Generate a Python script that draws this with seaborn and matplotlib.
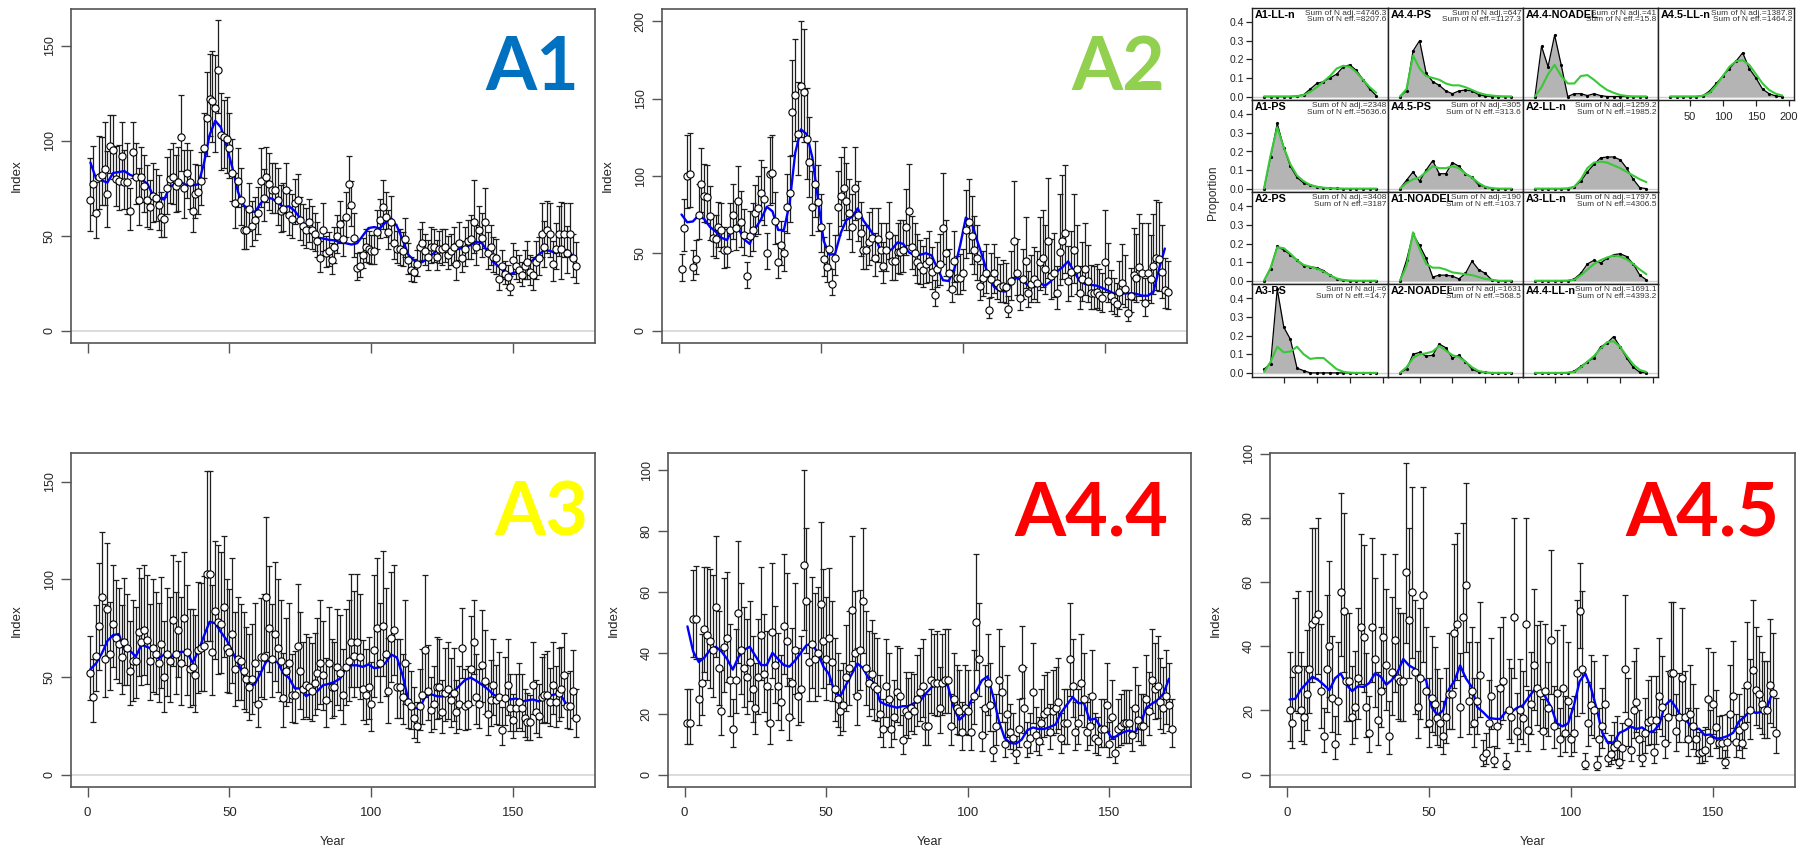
import numpy as np
import matplotlib
matplotlib.use("Agg")
import matplotlib.pyplot as plt
import seaborn as sns

sns.set_style("ticks")
plt.rcParams['font.family'] = ['Liberation Sans', 'DejaVu Sans']

# ---------------------------------------------------------------- data
A1_idx = [69, 77, 62, 81, 82, 85, 72, 97, 95, 80,
          79, 92, 78, 78, 63, 94, 81, 69, 81, 76,
          69, 65, 71, 70, 66, 60,
          59, 75, 80, 81, 76, 78, 102, 75, 83, 78,
          63, 72, 73, 79, 96, 112, 122, 121, 117, 137,
          103, 102, 101, 96, 83, 67, 79, 69, 53, 53,
          64, 55, 58, 62, 79, 70, 81, 77, 74, 74,
          69, 63, 64, 74, 61, 59, 67, 69,
          58, 55, 53, 57, 53, 51, 47, 38, 53, 41,
          42, 37, 44, 50, 56, 48, 60, 77, 66, 49,
          33, 34, 40, 44, 43, 42, 42, 52, 58, 65,
          60, 52, 57, 46, 43, 43, 42, 48, 37, 32,
          31, 35, 44, 46, 42, 39, 44, 44, 39, 43,
          43, 44, 40, 42, 44, 35, 46, 38, 43, 47,
          48, 57, 44, 53, 49, 57, 41, 44, 39, 38,
          27, 34, 30, 28, 23, 37, 34, 32, 29, 34,
          36, 31, 29, 36, 38, 51, 44, 53, 51, 35,
          43, 51, 43, 51, 41, 51, 38, 34]
A1_se = [14, 12, 12, 12, 11, 13, 14, 8, 9, 10,
         11, 9, 10, 12, 9, 8, 10, 11, 9, 10,
         12, 10, 11, 10, 11, 10, 9, 10, 9, 10,
         10, 11, 10, 12, 9, 10, 10, 10, 9, 9,
         9, 10, 9, 10, 11, 9, 10, 9, 10, 9,
         10, 11, 10, 11, 11, 11, 10, 11, 10, 10,
         10, 10, 9, 10, 9, 9, 11, 10, 10, 9,
         10, 10, 9, 9, 10, 10, 10, 10, 11, 10,
         10, 11, 12, 10, 11, 11, 11, 10, 10, 10,
         10, 9, 9, 12, 11, 10, 10, 10, 10, 9,
         9, 10, 9, 10, 10, 10, 11, 10, 10, 11,
         11, 11, 11, 10, 10, 10, 10, 11, 10, 10,
         11, 10, 10, 10, 11, 10, 11, 10, 11, 14,
         11, 11, 12, 11, 12, 17, 12, 11, 12, 14,
         12, 12, 12, 12, 12, 11, 10, 11, 11, 11,
         11, 11, 11, 11, 14, 13, 15, 14, 13, 14,
         14, 13, 14, 15, 14, 13, 23, 14, 15, 14,
         15, 16]
A1_fit = [88.5, 80, 79, 78, 83, 83.5, 84, 82, 81, 79.5,
          77.5, 71.5, 70, 69, 76, 77, 78, 76.6, 76.6, 77,
          88, 103, 110.5, 107, 97, 86, 73, 66, 63, 62.5,
          67, 70, 69.5, 67.5, 65, 65.5, 63, 59, 54.5, 51,
          49, 48.5, 47.8, 47.5, 46.5, 46, 45.3, 46, 50, 54,
          54.5, 53.8, 57, 59, 55, 48, 40, 37, 35.5, 37,
          39.5, 42, 43.3, 43, 42.8, 43, 44, 45, 46.8, 46,
          41.5, 36, 33.6, 31, 29.8, 30.8, 32.5, 35, 37.2, 40,
          42.4, 42, 40.7, 42, 42.4, 39.5]

A2_idx = [40, 66, 100, 101, 41, 46, 75, 95, 87, 86,
          74, 60, 59, 67, 65, 52, 52, 65, 75, 66,
          84, 70, 62, 35, 61, 65, 76, 79, 89, 85,
          50, 101, 102, 71, 44, 55, 50, 80, 89, 141,
          152, 127, 158, 154, 124, 109, 80, 95, 83, 67,
          46, 41, 53, 30, 47, 80, 87, 92, 84, 76,
          67, 92, 75, 63, 52, 52, 57, 60, 47, 59,
          52, 42, 52, 62, 45, 45, 51,
          51, 52, 67, 77, 54, 50, 44, 42, 39, 43,
          45, 38, 23, 40, 43, 66, 50, 37, 27, 45,
          34, 34, 37, 65, 70, 61, 52, 47, 29, 34,
          37, 13, 33, 37, 31, 28, 29, 28, 14, 32,
          58, 37, 21, 33, 45, 24, 30, 33, 31, 44,
          47, 40, 58, 35, 37, 24, 51, 58, 63, 32,
          38, 52, 40, 24, 33, 40, 32, 24, 24, 25,
          23, 21, 44, 32, 22, 19, 17, 25, 31, 27,
          11, 22, 36, 34, 41, 37, 18, 37, 33, 42,
          47, 46, 38, 26, 25]
A2_se = [11, 13, 12, 12, 12, 12, 12, 11, 11, 11,
         12, 11, 12, 11, 12, 13, 12, 12, 12, 12,
         12, 13, 12, 12, 12, 12, 11, 12, 11, 11,
         12, 11, 11, 12, 13, 13, 13, 12, 12, 11,
         11, 12, 12, 12, 12, 12, 13, 13, 13, 14,
         14, 14, 14, 14, 14, 13, 13, 13, 13, 13,
         14, 13, 13, 14, 14, 14, 15, 14, 15, 15,
         15, 16, 15, 15, 16, 16, 16, 17, 16, 16,
         17, 16, 17, 18, 17, 17, 17, 18, 18, 18,
         18, 19, 22, 18, 18, 19, 18, 18, 19, 18,
         17, 17, 18, 18, 19, 20, 21, 21, 24, 21,
         21, 22, 22, 23, 23, 24, 24, 26, 24, 24,
         24, 25, 24, 25, 25, 26, 26, 26, 27, 27,
         27, 27, 28, 28, 28, 27, 27, 27, 27, 27,
         28, 28, 28, 28, 29, 28, 28, 28, 29, 29,
         29, 29, 30, 30, 30, 30, 30, 31, 31, 31,
         31, 31, 32, 32, 32, 32, 30, 30, 30, 30,
         30, 30]
A2_fit = [75, 70, 70.5, 74.5, 72, 67, 64, 60, 58.5, 66,
          66, 59, 56, 66, 72, 80, 77, 65, 65, 82,
          115, 130, 127, 112, 85, 58, 49, 49.5, 63, 71.6,
          73.5, 79, 71, 66, 60.5, 52, 51, 52.5, 57, 56,
          50.5, 48.5, 49, 50, 48.5, 40, 32.5, 32, 40, 55,
          73, 70, 58, 47, 34.5, 28, 25.6, 25.2, 30.5, 34.5,
          32, 29, 28, 30.5, 29, 32, 38, 41, 44.7, 38.5,
          32, 30, 29.5, 29, 27.5, 25.8, 24, 23.5, 24, 24,
          23.7, 22.5, 22.5, 25, 40, 53]

A3_idx = [52, 40, 61, 76, 91, 59, 85, 62, 77, 70,
          67, 60, 68, 65, 53, 58, 58, 73, 68, 74,
          69, 58, 65, 62, 57, 67, 50, 62, 58, 79,
          62, 74, 57, 80, 63, 54, 55, 51, 64, 65,
          66, 103, 103, 63, 84, 78, 77, 86, 65, 63,
          72, 54, 59, 58, 53, 49, 45, 49, 57, 36,
          60, 60, 91, 75, 59, 72, 65, 58, 39, 53,
          57, 41, 41, 66, 53, 44, 46, 45, 43, 47,
          52, 57, 51, 38, 57,
          45, 45, 55, 52, 41, 55, 58, 68, 61, 68,
          60, 44, 41, 45, 36, 64, 75, 57, 76, 62,
          43, 70, 74, 45, 45, 40, 57, 37, 35, 29,
          25, 35, 41, 64, 43, 33, 36, 45, 45, 32,
          42, 44, 38, 42, 32, 36, 65, 35, 36, 54,
          68, 40, 36, 56, 48, 31, 38, 46, 38, 40,
          23, 39, 46, 34, 28, 34, 37, 34, 29, 27,
          27, 46, 32, 30, 40, 41, 41, 37, 46, 37,
          42, 44, 51, 35, 35, 43, 29]
A3_se = [16, 20, 18, 18, 16, 20, 17, 18, 17, 18,
         18, 19, 20, 18, 20, 22, 20, 19, 20, 19,
         20, 21, 22, 21, 22, 21, 23, 22, 23, 18,
         21, 20, 24, 18, 22, 23, 22, 24, 22, 21,
         22, 21, 21, 22, 18, 21, 20, 18, 22, 21,
         22, 22, 22, 21, 23, 22, 24, 23, 22, 20,
         21, 22, 19, 18, 20, 21, 22, 22, 24, 21,
         22, 21, 22, 20, 23, 22, 23, 23, 23, 22,
         22, 23, 22, 23, 21, 22, 21, 22, 23, 23,
         22, 22, 21, 22, 21, 22, 23, 23, 23, 24,
         24, 20, 22, 21, 22, 25, 20, 19, 22, 22,
         22, 23, 22, 21, 22, 20, 22, 23, 24, 22,
         21, 22, 23, 22, 21, 22, 22, 23, 22, 21,
         22, 14, 22, 22, 21, 14, 22, 21, 21, 22,
         21, 22, 21, 20, 23, 21, 22, 21, 21, 20,
         21, 22, 21, 21, 22, 21, 20, 21, 22, 21,
         21, 22, 20, 20, 21, 22, 20, 18, 20, 21,
         20, 21]
A3_fit = [54, 57, 62, 68.5, 71.5, 72, 64, 63.4, 60.5, 66.5,
          65.4, 64.2, 59.5, 61.5, 59.5, 62.5, 62.9, 62.9, 57.3, 63,
          71, 78.3, 77.5, 73, 69, 63, 57, 51, 44.5, 46.5,
          52, 58, 58.5, 57.5, 51.8, 49.5, 44.2, 44.1, 40.2, 41.8,
          42.8, 45.8, 46.5, 47.5, 49.2, 54.5, 56, 56, 55.2, 56.5,
          54.5, 55, 57.2, 61.5, 60, 51, 38.5, 34, 34, 40,
          41.2, 40.2, 40, 41.2, 42.5, 45.5, 48.5, 49.7, 48, 46,
          43.8, 41, 39.7, 39.2, 38.5, 39, 37.5, 38, 38.5, 37.5,
          39, 40.5, 41.2, 40.2, 35.3, 34.8]

A44_idx = [17, 17, 51, 51, 25, 30, 48, 46, 44, 41,
           55, 35, 21, 42, 45, 31, 15, 31, 53, 41,
           35, 32, 37, 28, 22, 32, 46, 33, 29, 17,
           47, 36, 29, 24, 49, 44, 19, 30, 41, 26,
           28, 69, 57, 37, 43, 38, 40, 56, 44, 38,
           45, 37, 28, 25, 21, 23, 32, 35, 54, 40,
           26, 41, 57, 35, 30, 33, 29, 28, 20, 15,
           29, 25, 15, 19, 27, 26,
           11.5, 21, 19.5, 22, 21, 25, 27, 29, 16, 16,
           31, 30, 30, 22, 30, 31, 31, 16, 25, 22,
           21, 14, 22, 21, 14, 26, 50, 38, 13, 22,
           30, 23, 8, 16, 31, 27, 10, 20, 14, 12,
           7, 15, 35, 22, 10, 12, 27, 13, 11, 17,
           20, 21, 14, 21, 22, 24, 12, 17, 17, 38,
           29, 14, 17, 30, 25, 14, 16, 26, 12, 11,
           15, 15, 23, 10, 19, 7, 15, 16, 17, 17,
           17, 13, 22, 18, 16, 16, 25, 21, 31, 28,
           29, 24, 22, 26, 23, 15]
A44_se = [26, 26, 14, 15, 22, 22, 18, 20, 22, 24,
          18, 22, 25, 22, 20, 24, 26, 22, 19, 22,
          23, 24, 22, 25, 26, 24, 20, 24, 25, 26,
          20, 22, 24, 25, 20, 21, 26, 24, 22, 24,
          25, 19, 18, 22, 21, 23, 22, 20, 22, 22,
          21, 22, 24, 24, 25, 24, 22, 22, 19, 21,
          24, 20, 18, 22, 23, 22, 24, 24, 25, 26,
          22, 24, 26, 25, 23, 24, 27, 24, 25, 22,
          23, 23, 22, 22, 26, 26, 22, 22, 23, 24,
          22, 22, 22, 26, 24, 25, 25, 27, 25, 25,
          27, 23, 19, 20, 27, 25, 22, 24, 30, 26,
          22, 23, 28, 25, 26, 27, 30, 26, 17, 24,
          28, 27, 24, 27, 28, 26, 25, 24, 26, 25,
          24, 24, 27, 26, 26, 20, 22, 27, 26, 22,
          24, 27, 26, 23, 27, 28, 26, 26, 24, 28,
          25, 30, 26, 26, 25, 25, 25, 27, 24, 25,
          26, 26, 23, 24, 22, 22, 23, 24, 24, 23,
          24, 26]
A44_fit = [48.7, 40.5, 37, 38.5, 41, 42, 40.5, 38, 34.5, 38.6,
           41, 42, 39, 36, 36, 40, 38, 36, 35.5, 37.5,
           40, 42.5, 43, 40, 35.5, 33, 27, 25.8, 29.5, 33,
           36.5, 35, 31.5, 30, 24, 23, 22.5, 22, 22.5, 22.5,
           23.5, 24, 26.5, 28.5, 30, 31.2, 29, 22, 18, 19.8,
           24, 27.5, 31, 32.3, 25.5, 17.5, 12, 10.4, 10.2, 11.5,
           14.6, 15.5, 15, 15, 15.7, 16.5, 20.5, 23, 25.5, 23.5,
           23.5, 18, 18.4, 15.5, 14.6, 11.8, 13, 14, 14.5, 13.9,
           16.7, 22, 23.3, 24.5, 26.5, 31.5]

A45_idx = [20, 16, 33, 33, 20, 18, 25, 33, 47, 48,
           50, 26, 12, 33, 40, 24, 9.5, 23, 57, 51,
           29, 29, 18, 21, 30, 46, 43, 21, 13, 46,
           36, 17, 26, 43, 34, 12, 32, 42, 30, 29,
           29, 63, 48, 57, 32, 21, 30, 56, 26, 16,
           24, 22, 17.5, 16, 12, 18, 25, 25, 44, 47,
           21, 49, 59, 23, 26, 16, 23, 31, 5.5, 6.6,
           16, 24.5, 4.5, 15, 27, 29, 3.4, 20, 18, 49,
           13.5, 20,
           17.5, 47, 14, 22, 34, 27, 25.5, 13.6, 26, 20.6,
           42, 15, 25.5, 11, 27, 13, 23, 11, 13, 31.5,
           51, 33, 3.4, 16, 21.6, 20, 3, 11, 15, 22,
           5.3, 6.3, 8.6, 9.5, 4, 8.4, 33, 16.4, 7.8, 20,
           22.7, 11, 5.3, 12.8, 16.4, 17, 7, 17, 24.5, 21,
           9.7, 18, 31.7, 31.7, 13.6, 18, 30, 18, 11, 19,
           15, 11, 6.8, 7.1, 7.8, 23.7, 10.7, 22, 14.7, 9.7,
           9.9, 4, 10, 19, 24.5, 10, 14, 9.7, 15, 28,
           20, 32.6, 26.5, 25, 22, 20, 20, 28, 25.5, 12.8]
A45_se = [33, 33, 26, 28, 33, 32, 30, 28, 25, 24,
          24, 30, 28, 27, 26, 30, 33, 30, 22, 24,
          28, 28, 32, 31, 28, 25, 26, 30, 32, 24,
          27, 32, 29, 24, 27, 33, 28, 25, 28, 28,
          28, 22, 24, 23, 27, 31, 28, 24, 29, 32,
          30, 30, 32, 32, 33, 31, 29, 29, 25, 24,
          30, 24, 22, 30, 29, 32, 30, 28, 34, 34,
          31, 28, 34, 31, 27, 27, 34, 30, 31, 25,
          32, 30, 31, 27, 32, 28, 27, 28, 32, 28,
          30, 27, 26, 31, 29, 32, 28, 32, 30, 32,
          32, 28, 13, 28, 34, 30, 28, 29, 34, 32,
          30, 27, 34, 34, 33, 33, 34, 33, 27, 31,
          33, 29, 28, 31, 34, 32, 30, 30, 33, 30,
          28, 29, 32, 30, 27, 27, 31, 29, 28, 30,
          32, 30, 32, 32, 34, 34, 33, 26, 32, 28,
          30, 32, 32, 34, 32, 30, 27, 32, 30, 32,
          30, 27, 30, 26, 28, 28, 28, 29, 29, 28,
          28, 32]
A45_fit = [23.4, 23.6, 26.5, 28.5, 30.5, 29.5, 28, 26.3, 30, 31.5,
           28, 26, 27.5, 27.3, 28.5, 31.5, 30.6, 28, 29.5, 32,
           36, 34, 33, 30, 29.5, 21, 18.5, 20, 26.5, 29.2,
           34, 30, 27.4, 21, 19.5, 17.7, 17.4, 17.3, 19.5, 19.5,
           20.8, 21.5, 24, 26.3, 25.8, 24.2, 21, 16, 15, 16,
           21.5, 29, 31.5, 27, 20.5, 13, 9.8, 10, 13, 13.8,
           15, 14.2, 14.7, 13.2, 13.5, 15.5, 21.5, 23.2, 20.8, 17.5,
           16.4, 14, 14.3, 12.3, 12.5, 11.2, 11.4, 12, 13, 16.5,
           18, 20, 19.2, 19.5, 21, 26]

# length-composition fits (bins 20..190 cm)
len_bins = [20, 30, 40, 50, 60, 70, 80, 90, 100, 110, 120, 130, 140, 150, 160, 170, 180, 190]
comp_names = ["A1-LL-n", "A4.4-PS", "A4.4-NOADEL", "A4.5-LL-n",
              "A1-PS", "A4.5-PS", "A2-LL-n",
              "A2-PS", "A1-NOADEL", "A3-LL-n",
              "A3-PS", "A2-NOADEL", "A4.4-LL-n"]
comp_adj = ["4746.3", "647", "41", "1387.8", "2348", "305", "1259.2",
            "3408", "190", "1797.5", "6", "1631", "1691.1"]
comp_eff = ["8207.6", "1127.3", "15.8", "1464.2", "5636.6", "313.6", "1985.2",
            "3187", "103.7", "4306.5", "14.7", "568.5", "4393.2"]
comp_obs = [
    [0, 0, 0, 0, 0, 0.002, 0.01, 0.04, 0.07, 0.08, 0.10, 0.12, 0.16, 0.17, 0.14, 0.09, 0.04, 0.005],
    [0, 0.03, 0.245, 0.30, 0.125, 0.08, 0.06, 0.03, 0.015, 0.03, 0.035, 0.03, 0.01, 0.003, 0, 0, 0, 0],
    [0, 0.27, 0.16, 0.33, 0.17, 0, 0.015, 0.015, 0.005, 0.015, 0.005, 0, 0, 0, 0, 0, 0, 0],
    [0, 0, 0, 0, 0, 0.005, 0.03, 0.07, 0.11, 0.15, 0.19, 0.235, 0.15, 0.10, 0.04, 0.015, 0.003, 0],
    [0, 0.17, 0.35, 0.22, 0.12, 0.06, 0.03, 0.02, 0.01, 0.005, 0.002, 0.001, 0, 0, 0, 0, 0, 0],
    [0, 0.045, 0.09, 0.04, 0.10, 0.15, 0.08, 0.08, 0.14, 0.12, 0.08, 0.06, 0.02, 0.01, 0, 0, 0, 0],
    [0, 0, 0, 0, 0, 0, 0.01, 0.04, 0.09, 0.13, 0.165, 0.17, 0.17, 0.155, 0.11, 0.05, 0.005, 0],
    [0, 0.065, 0.185, 0.165, 0.14, 0.11, 0.08, 0.075, 0.07, 0.055, 0.03, 0.01, 0.003, 0, 0, 0, 0, 0],
    [0, 0.11, 0.25, 0.19, 0.12, 0.02, 0.03, 0.03, 0.025, 0.01, 0.04, 0.105, 0.06, 0.04, 0.005, 0, 0, 0],
    [0, 0, 0, 0, 0, 0, 0.01, 0.04, 0.09, 0.11, 0.095, 0.12, 0.14, 0.145, 0.13, 0.09, 0.03, 0.005],
    [0.02, 0.05, 0.45, 0.245, 0.18, 0.025, 0.012, 0, 0, 0, 0, 0, 0, 0, 0, 0, 0, 0],
    [0, 0.02, 0.10, 0.11, 0.09, 0.095, 0.155, 0.135, 0.08, 0.095, 0.06, 0.02, 0.005, 0.003, 0, 0, 0, 0],
    [0, 0, 0, 0, 0, 0, 0.01, 0.035, 0.06, 0.08, 0.14, 0.16, 0.195, 0.14, 0.08, 0.03, 0.003, 0],
]
comp_exp = [
    [0, 0, 0, 0, 0, 0.002, 0.008, 0.025, 0.05, 0.08, 0.11, 0.15, 0.165, 0.16, 0.13, 0.09, 0.05, 0.02],
    [0, 0.04, 0.22, 0.15, 0.11, 0.10, 0.09, 0.07, 0.06, 0.06, 0.05, 0.035, 0.02, 0.01, 0.005, 0.002, 0, 0],
    [0, 0.05, 0.12, 0.17, 0.11, 0.07, 0.07, 0.11, 0.115, 0.09, 0.06, 0.035, 0.02, 0.008, 0.003, 0, 0, 0],
    [0, 0, 0, 0, 0, 0.005, 0.02, 0.06, 0.11, 0.16, 0.19, 0.195, 0.17, 0.12, 0.07, 0.035, 0.015, 0.005],
    [0, 0.18, 0.33, 0.22, 0.13, 0.07, 0.04, 0.02, 0.01, 0.005, 0.002, 0.001, 0, 0, 0, 0, 0, 0],
    [0, 0.03, 0.05, 0.06, 0.09, 0.12, 0.11, 0.11, 0.12, 0.11, 0.08, 0.06, 0.03, 0.01, 0.003, 0, 0, 0],
    [0, 0, 0, 0, 0, 0.002, 0.01, 0.05, 0.11, 0.14, 0.145, 0.14, 0.125, 0.11, 0.09, 0.07, 0.05, 0.035],
    [0, 0.07, 0.18, 0.175, 0.145, 0.11, 0.085, 0.075, 0.065, 0.05, 0.03, 0.012, 0.004, 0.001, 0, 0, 0, 0],
    [0, 0.08, 0.26, 0.17, 0.09, 0.07, 0.07, 0.06, 0.045, 0.04, 0.035, 0.03, 0.02, 0.01, 0.005, 0, 0, 0],
    [0, 0, 0, 0, 0, 0.001, 0.005, 0.03, 0.06, 0.09, 0.11, 0.125, 0.135, 0.13, 0.115, 0.09, 0.06, 0.035],
    [0.005, 0.06, 0.14, 0.11, 0.115, 0.14, 0.10, 0.075, 0.08, 0.08, 0.05, 0.02, 0.006, 0.001, 0, 0, 0, 0],
    [0, 0.03, 0.08, 0.10, 0.105, 0.115, 0.145, 0.12, 0.095, 0.085, 0.06, 0.03, 0.01, 0.003, 0, 0, 0, 0],
    [0, 0, 0, 0, 0, 0.001, 0.005, 0.03, 0.06, 0.09, 0.13, 0.165, 0.17, 0.14, 0.09, 0.045, 0.015, 0.005],
]
comp_cells = [(0, 0), (0, 1), (0, 2), (0, 3),
              (1, 0), (1, 1), (1, 2),
              (2, 0), (2, 1), (2, 2),
              (3, 0), (3, 1), (3, 2)]

# ---------------------------------------------------------------- figure
W, H = 1801, 851
fig = plt.figure(figsize=(18.012, 8.512), dpi=100)
fig.patch.set_facecolor('white')


def px_axes(l, t, r, b):
    return fig.add_axes([l / W, 1 - b / H, (r - l) / W, (b - t) / H])


AX_COL = '#555555'
TXT_COL = '#262626'


def ts_panel(box, idx, se, fit, ylim, yticks, label, lab_color, lab_right, lab_base, bottom_row):
    ax = px_axes(*box)
    n = min(len(idx), len(se))
    yrs = np.arange(1, n + 1)
    v = np.asarray(idx[:n], float)
    s = np.asarray(se[:n], float) / 100.0
    lo = v * np.exp(-1.96 * s)
    hi = v * np.exp(1.96 * s)
    ax.axhline(0, color='#d2d2d2', lw=1.1, zorder=0)
    ax.errorbar(yrs, v, yerr=[v - lo, hi - v], fmt='none', ecolor='#1e1e1e',
                elinewidth=0.9, capsize=2.5, capthick=0.9, zorder=2)
    fx = np.arange(1, 2 * len(fit), 2)
    sns.lineplot(x=fx, y=fit, color='#0000ff', lw=1.7, ax=ax, zorder=3)
    sns.scatterplot(x=yrs, y=v, s=27, color='white', edgecolor='black',
                    linewidth=0.8, ax=ax, zorder=4)
    ax.set_xlim(-5.84, 178.84)
    ax.set_ylim(*ylim)
    ax.set_xlabel('')
    ax.set_ylabel('')
    ax.set_xticks([0, 50, 100, 150])
    ax.set_yticks(yticks)
    ax.set_yticklabels([str(t) for t in yticks], rotation=90, va='center')
    ax.tick_params(direction='out', length=7, width=1.0, color=AX_COL,
                   labelsize=9, labelcolor=TXT_COL)
    ax.tick_params(axis='y', pad=4)
    ax.tick_params(axis='x', pad=7, labelsize=9.5)
    if not bottom_row:
        ax.set_xticklabels([])
    for sp in ax.spines.values():
        sp.set_visible(True)
        sp.set_color(AX_COL)
        sp.set_linewidth(1.2)
    l, t, r, b = box
    fig.text((l - 54) / W, 1 - ((t + b) / 2) / H, 'Index', rotation=90,
             ha='center', va='center', fontsize=9.6, color=TXT_COL)
    if bottom_row:
        fig.text(((l + r) / 2) / W, 1 - 842 / H, 'Year', ha='center',
                 va='center', fontsize=9.2, color=TXT_COL)
    fig.text(lab_right / W, 1 - lab_base / H, label, ha='right', va='baseline',
             fontsize=53, fontweight='bold', color=lab_color,
             family=['Lato', 'Open Sans', 'DejaVu Sans'])
    return ax


ts_panel((71, 9, 595, 343), A1_idx, A1_se, A1_fit, (-6.5, 169.5), [0, 50, 100, 150],
         'A1', '#0070C0', 579, 90, False)
ts_panel((662, 9, 1187, 343), A2_idx, A2_se, A2_fit, (-8, 208), [0, 50, 100, 150, 200],
         'A2', '#92D050', 1165, 90, False)
ts_panel((71, 453, 595, 787), A3_idx, A3_se, A3_fit, (-6.34, 164.8), [0, 50, 100, 150],
         'A3', '#FFFF00', 588, 535, True)
ts_panel((668, 453, 1191, 787), A44_idx, A44_se, A44_fit, (-4.05, 105.7), [0, 20, 40, 60, 80, 100],
         'A4.4', '#FF0000', 1168, 535, True)
ts_panel((1270, 453, 1795, 787), A45_idx, A45_se, A45_fit, (-3.86, 100.2), [0, 20, 40, 60, 80, 100],
         'A4.5', '#FF0000', 1779, 535, True)

# ---------------------------------------------------------------- composition grid
col_edges = [1252, 1388, 1523, 1658, 1794]
row_edges = [8.3, 100.4, 192.5, 284.6, 376.7]
GREEN = '#38c838'
for k, (r, c) in enumerate(comp_cells):
    box = (col_edges[c], row_edges[r], col_edges[c + 1], row_edges[r + 1])
    ax = px_axes(*box)
    obs = comp_obs[k]
    ex = comp_exp[k]
    ax.axhline(0, color='#cfcfcf', lw=1.0, zorder=0)
    ax.fill_between(len_bins, 0, obs, color='#b4b4b4', lw=0, zorder=1)
    sns.lineplot(x=len_bins, y=obs, color='black', lw=0.9, marker='o',
                 markersize=2.3, markeredgewidth=0, ax=ax, zorder=2)
    sns.lineplot(x=len_bins, y=ex, color=GREEN, lw=1.5, ax=ax, zorder=3)
    ax.set_xlim(2, 208)
    ax.set_ylim(-0.02, 0.475)
    ax.set_xlabel('')
    ax.set_ylabel('')
    for sp in ax.spines.values():
        sp.set_visible(True)
        sp.set_color('#222222')
        sp.set_linewidth(1.0)
    ax.tick_params(direction='out', length=4, width=0.9, color='#222222',
                   labelsize=7.5, labelcolor=TXT_COL, pad=2)
    if c == 0:
        ax.set_yticks([0, 0.1, 0.2, 0.3, 0.4])
        ax.set_yticklabels(['0.0', '0.1', '0.2', '0.3', '0.4'])
    else:
        ax.set_yticks([])
    if r == 3 or c == 3:
        ax.set_xticks([50, 100, 150, 200])
        if c == 3:
            ax.set_xticklabels(['50', '100', '150', '200'])
            ax.tick_params(axis='x', labelsize=8, pad=4)
        else:
            ax.set_xticklabels([])
    else:
        ax.set_xticks([])
    ax.text(0.02, 0.985, comp_names[k], transform=ax.transAxes, ha='left', va='top',
            fontsize=7.8, fontweight='bold', color='black', zorder=6)
    ax.text(0.985, 0.985, 'Sum of N adj.=' + comp_adj[k] + '\nSum of N eff.=' + comp_eff[k],
            transform=ax.transAxes, ha='right', va='top', fontsize=6.0,
            color='#333333', linespacing=0.95, zorder=6)

fig.text(1213 / W, 1 - 192.5 / H, 'Proportion', rotation=90, ha='center', va='center',
         fontsize=8.5, color=TXT_COL)

fig.savefig('out.png', dpi=100, facecolor='white')
